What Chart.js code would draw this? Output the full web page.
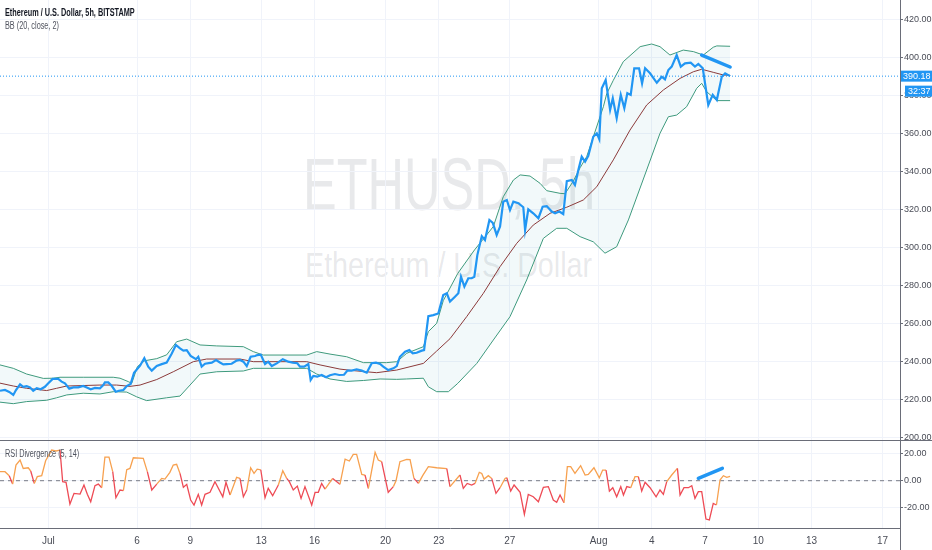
<!DOCTYPE html>
<html>
<head>
<meta charset="utf-8">
<title>ETHUSD 5h</title>
<script src="https://cdn.jsdelivr.net/npm/chart.js@4.4.1/dist/chart.umd.min.js"></script>
<style>
  html, body { margin: 0; padding: 0; background: #fff; }
  #wrap { position: relative; width: 932px; height: 550px; overflow: hidden; font-family: "Liberation Sans", Arial, sans-serif; }
  canvas { position: absolute; left: 0; }
  #mainCanvas { top: 0; }
  #rsiCanvas { top: 440px; }
  .mark { position: absolute; white-space: nowrap; line-height: 1; color: rgba(120, 123, 134, 0.17); transform-origin: 0 0; }
  .label { position: absolute; white-space: nowrap; line-height: 1; font-size: 10px; transform-origin: 0 0; transform: scaleX(0.73); }
  .rule { position: absolute; background: #6a6d78; }
</style>
</head>
<body>
<div id="wrap">
  <div class="mark" style="left:303px; top:147px; font-size:75px; transform:scaleX(0.674);">ETHUSD, 5h</div>
  <div class="mark" style="left:305px; top:247px; font-size:35px; transform:scaleX(0.82);">Ethereum / U.S. Dollar</div>
  <canvas id="mainCanvas" width="932" height="440"></canvas>
  <canvas id="rsiCanvas" width="932" height="110"></canvas>
  <div class="label" style="left:5px; top:8px; font-weight:bold; color:#131722;">Ethereum / U.S. Dollar, 5h, BITSTAMP</div>
  <div class="label" style="left:5px; top:21px; color:#50535e;">BB (20, close, 2)</div>
  <div class="label" style="left:5px; top:449px; color:#50535e;">RSI Divergence (5, 14)</div>
  <div class="rule" style="left:0; top:440px; width:932px; height:1px;"></div>
  <div class="rule" style="left:900px; top:0; width:1px; height:550px;"></div>
</div>
<script>
// x values are days counted from Jul 1 (00:00), one 5h bar = 0.208 day
const xTickDays = [0, 5, 8, 12, 15, 19, 22, 26, 31, 34, 37, 40, 43, 47];
const xTickLabels = ["Jul", "6", "9", "13", "16", "20", "23", "27", "Aug", "4", "7", "10", "13", "17"];
const priceTicks = [200, 220, 240, 260, 280, 300, 320, 340, 360, 380, 400, 420];
const rsiTicks = [-20, 0, 20];

const closeDays = [
  -2.72, -2.44, -2.20, -1.97, -1.82, -1.59, -1.41, -1.22, -1.03, -0.85, -0.65, -0.43, -0.19,
  0.00, 0.25, 0.56, 0.75, 0.94, 1.18, 1.41, 1.69, 1.97, 2.20, 2.39, 2.63, 2.91, 3.10, 3.19,
  3.38, 3.57, 3.80, 3.98, 4.23, 4.42, 4.64, 4.83, 5.17, 5.41, 5.63, 5.83, 6.11, 6.39, 6.67,
  6.95, 7.19, 7.42, 7.61, 7.80, 8.02, 8.32, 8.45, 8.64, 8.83, 9.21, 9.45, 9.67, 9.86, 10.05,
  10.33, 10.61, 10.80, 10.99, 11.18, 11.40, 11.65, 11.77, 11.97, 12.21, 12.39, 12.59, 12.87,
  13.21, 13.52, 13.77, 14.03, 14.18, 14.41, 14.65, 14.78, 14.93, 15.15, 15.40, 15.65, 15.87,
  16.15, 16.39, 16.66, 16.85, 17.09, 17.37, 17.66, 17.94, 18.22, 18.46, 18.69, 18.87, 19.15,
  19.44, 19.63, 19.81, 20.10, 20.34, 20.53, 20.75, 21.04, 21.17, 21.41, 21.69, 21.97, 22.25,
  22.45, 22.63, 22.91, 23.10, 23.25, 23.44, 23.66, 23.85, 24.00, 24.17, 24.42, 24.60, 24.85,
  25.04, 25.26, 25.45, 25.63, 25.83, 26.01, 26.20, 26.48, 26.76, 26.86, 27.04, 27.32, 27.61,
  27.85, 28.08, 28.36, 28.55, 28.79, 29.01, 29.21, 29.49, 29.67, 29.86, 30.05, 30.24, 30.42,
  30.70, 30.90, 31.04, 31.18, 31.40, 31.65, 31.80, 32.02, 32.25, 32.45, 32.62, 32.81, 33.01,
  33.28, 33.45, 33.62, 33.90, 34.28, 34.56, 34.74, 34.93, 35.12, 35.40, 35.63, 35.87, 36.19,
  36.43, 36.62, 36.87, 37.18, 37.43, 37.66, 37.94, 38.13, 38.41
];
const closeValues = [
  224.6, 225.0, 224.0, 222.4, 225.0, 228.0, 226.7, 227.0, 226.4, 224.6, 225.9, 225.4, 226.7,
  228.5, 230.8, 230.8, 229.4, 228.5, 225.7, 226.4, 226.4, 227.1, 226.2, 225.4, 226.1, 225.9, 227.6, 229.0,
  229.0, 227.2, 224.1, 224.6, 225.0, 227.1, 228.2, 234.1, 237.8, 241.8, 237.3, 235.2, 237.6, 238.6, 239.4,
  244.1, 248.7, 246.9, 245.7, 246.0, 242.9, 241.2, 242.5, 237.3, 238.8, 239.4, 240.8, 239.5, 238.5, 238.6,
  238.8, 240.5, 240.8, 239.9, 237.6, 242.5, 242.9, 243.4, 243.6, 238.7, 239.9, 237.6, 239.0,
  241.2, 239.9, 239.4, 239.1, 237.3, 237.3, 238.7, 230.3, 232.4, 232.0, 232.9, 231.7, 232.8,
  233.4, 232.9, 233.0, 235.2, 235.2, 235.9, 235.2, 234.1, 239.1, 239.4, 238.7, 237.3, 235.5,
  236.4, 237.6, 242.5, 245.2, 246.0, 244.3, 244.6, 245.7, 246.0, 263.9, 264.4, 265.3, 275.0,
  275.9, 271.5, 274.1, 275.9, 284.6, 279.4, 283.8, 283.8, 284.6, 296.0, 306.0, 303.9, 314.5,
  313.0, 306.6, 311.0, 324.1, 325.0, 319.7, 324.1, 323.3, 321.2, 309.2, 320.1, 318.0, 315.4,
  321.5, 321.8, 318.9, 318.0, 318.9, 317.6, 334.9, 335.5, 332.9, 340.8, 347.8, 345.2, 348.2,
  358.3, 360.1, 357.0, 383.8, 388.2, 372.4, 378.5, 368.0, 380.3, 373.3, 381.2, 380.3, 394.3,
  394.3, 386.4, 394.3, 391.7, 386.7, 389.9, 388.5, 393.4, 395.2, 401.3, 395.2, 396.9, 397.3,
  395.2, 396.6, 394.3, 375.0, 380.3, 377.6, 389.9, 391.7, 390.2
];

const upperDays = [
  -2.72, -1.97, -1.22, -0.28, 0.28, 0.66, 1.97, 3.66, 4.04, 4.51, 4.70, 5.02, 5.43, 6.11, 6.67,
  7.23, 7.80, 8.55, 9.49, 10.99, 11.55, 12.11, 14.56, 15.12, 15.87, 16.81, 17.75, 19.06, 19.63,
  20.19, 21.13, 21.41, 21.88, 22.25, 23.07, 24.01, 25.07, 25.63, 26.20, 26.58, 27.14, 27.70,
  28.08, 28.83, 29.11, 29.58, 29.96, 30.33, 31.27, 31.46, 31.83, 32.39, 33.34, 33.99, 34.46,
  35.02, 35.77, 36.34, 36.90, 37.46, 37.66, 38.41
];
const upperValues = [
  238.2, 236.4, 233.4, 231.1, 231.2, 231.7, 231.7, 231.7, 231.2, 229.4, 228.5, 237.3, 240.4, 241.5, 243.5,
  250.4, 251.8, 248.7, 248.2, 247.8, 245.2, 243.4, 243.4, 245.2, 243.9, 242.5, 239.4, 239.4, 239.9,
  244.3, 247.8, 255.7, 260.1, 272.0, 286.4, 298.7, 311.0, 326.7, 335.5, 338.2, 337.6, 333.8,
  329.9, 328.5, 328.3, 335.0, 342.0, 347.8, 374.1, 381.0, 388.0, 397.8, 405.7, 407.1, 405.7,
  401.3, 403.9, 403.1, 401.3, 405.4, 406.1, 405.9
];

const lowerDays = [
  -2.72, -1.97, -1.22, -0.09, 0.47, 1.04, 1.97, 2.91, 3.66, 4.42, 4.98, 5.54, 6.67, 7.42, 8.55,
  9.49, 10.99, 11.55, 14.56, 15.12, 15.87, 16.81, 17.75, 18.69, 19.63, 20.19, 21.13, 21.41,
  21.88, 22.54, 23.07, 24.14, 25.07, 26.01, 26.95, 27.89, 28.64, 29.21, 29.96, 30.70, 31.36,
  32.02, 32.68, 33.71, 34.46, 34.93, 35.40, 35.96, 36.53, 36.81, 37.09, 37.66, 38.41
];
const lowerValues = [
  218.6, 217.8, 218.9, 219.6, 220.9, 222.4, 223.3, 222.9, 224.1, 223.9, 221.4, 219.4, 220.9, 221.8, 233.4,
  234.6, 235.0, 236.4, 236.4, 233.4, 230.8, 229.5, 230.0, 230.8, 230.6, 230.8, 231.2, 226.7,
  224.1, 224.1, 228.5, 239.0, 251.3, 263.6, 282.9, 304.8, 310.1, 310.1, 305.7, 303.0, 297.0,
  300.4, 314.5, 340.8, 360.1, 368.8, 369.7, 374.1, 383.8, 386.4, 382.0, 377.3, 377.3
];

const basisDays = [
  -2.72, -1.97, -1.22, -0.09, 0.47, 1.04, 2.91, 3.85, 4.60, 5.17, 6.11, 7.04, 8.17, 8.92, 10.80,
  11.55, 14.56, 15.31, 16.43, 17.18, 18.50, 19.63, 21.13, 21.88, 22.63, 23.57, 24.51, 25.45,
  26.39, 27.32, 28.27, 29.21, 30.14, 30.90, 31.83, 32.77, 33.71, 34.65, 35.59, 36.34, 36.81,
  37.46, 38.03, 38.41
];
const basisValues = [
  228.6, 227.1, 225.9, 224.7, 225.9, 227.1, 227.6, 227.6, 226.9, 227.6, 230.5, 234.6, 239.9, 241.3, 241.3,
  239.9, 239.9, 238.2, 236.0, 235.2, 234.1, 235.5, 239.0, 245.5, 252.0, 263.6, 275.9, 289.9,
  302.2, 311.8, 318.0, 321.2, 325.0, 332.0, 346.1, 361.8, 375.0, 382.9, 389.0, 392.5, 393.8,
  392.2, 390.8, 390.6
];

const rsiDays = [
  -2.72, -2.44, -2.20, -2.01, -1.82, -1.59, -1.41, -1.13, -0.99, -0.79, -0.62, -0.37, -0.15,
  0.19, 0.43, 0.66, 0.81, 1.00, 1.22, 1.45, 1.79, 2.01, 2.20, 2.39, 2.63, 2.82, 3.01, 3.19,
  3.42, 3.63, 3.81, 4.04, 4.23, 4.42, 4.60, 4.79, 5.35, 5.58, 5.83, 6.11, 6.39, 6.57, 6.85,
  7.04, 7.23, 7.42, 7.61, 7.80, 8.02, 8.21, 8.45, 8.64, 8.83, 9.11, 9.39, 9.83, 10.01, 10.24,
  10.61, 10.80, 10.99, 11.18, 11.40, 11.59, 11.77, 11.97, 12.21, 12.39, 12.64, 12.96, 13.21,
  13.43, 13.58, 13.80, 14.03, 14.24, 14.46, 14.84, 15.03, 15.21, 15.40, 15.59, 16.02, 16.43,
  16.72, 16.96, 17.18, 17.37, 17.66, 17.84, 18.03, 18.41, 18.59, 18.78, 19.15, 19.44, 19.59,
  19.81, 20.19, 20.38, 20.60, 20.85, 21.09, 21.41, 21.88, 22.45, 22.63, 23.19, 23.38, 23.60,
  23.85, 24.04, 24.28, 24.42, 24.55, 24.79, 24.98, 25.22, 25.45, 25.73, 25.83, 26.05, 26.24,
  26.58, 26.82, 27.04, 27.32, 27.61, 27.89, 28.17, 28.45, 28.64, 28.83, 29.05, 29.24, 29.43,
  29.67, 29.99, 30.24, 30.42, 30.74, 31.04, 31.23, 31.42, 31.61, 31.80, 32.02, 32.25, 32.40,
  32.59, 32.81, 33.05, 33.24, 33.43, 33.62, 33.90, 34.24, 34.46, 34.65, 34.84, 35.12, 35.44,
  35.59, 35.81, 36.06, 36.25, 36.43, 36.62, 36.81, 37.05, 37.24, 37.46, 37.64, 37.84, 38.03,
  38.22, 38.41
];
const rsiValues = [
  6.7, 6.7, 3.7, -2.5, 11.6, 15.3, 9.1, 9.6, 7.2, -2.0, 3.0, 3.7, 14.8,
  22.7, 22.0, 22.7, -0.7, -1.2, -17.3, -9.4, -9.9, -3.2, -10.1, -15.6, -3.7, -2.5, -5.2, 17.5,
  17.5, 6.7, -12.6, -6.9, -7.4, 8.1, 9.1, 17.0, 16.5, 6.7, -6.9, -2.5, 1.7, 1.2, 6.2,
  11.6, 12.1, 5.4, -4.9, -2.7, -14.3, -18.0, -10.1, -18.0, -10.1, -8.6, -0.7, -11.9, -1.2, -10.6,
  2.5, 1.7, -11.9, -6.9, 9.6, 5.4, 8.6, 8.1, -12.6, -5.7, -11.1, -3.2, 7.4,
  1.7, -0.7, -6.9, -4.0, -13.1, -4.4, -18.0, -8.6, -8.6, -2.0, -6.2, 1.7, -2.7,
  16.0, 14.6, 19.5, 19.5, 4.7, 4.2, -5.7, 21.0, 15.3, 14.1, -8.6, -4.4, 0.0,
  14.1, 15.8, 15.6, 1.7, -2.0, 3.7, 10.4, 9.6, 8.9, -4.4, 4.2, -5.7, -2.0,
  -3.2, -2.0, 6.2, 5.4, 1.2, 3.7, 1.7, -9.4, -5.2, 1.7, 2.2, -7.7, -3.2,
  -8.6, -24.9, -10.1, -11.9, -15.6, -4.9, -4.4, -14.3, -16.0, -10.6, -16.3, 10.4, 10.4,
  5.4, 11.1, 4.2, 4.7, 9.6, 2.2, 7.9, 7.9, -7.7, -5.2, -11.9, -4.4, -10.6,
  -4.4, -5.2, 3.0, 3.0, -7.7, -1.2, -5.2, -11.9, -6.9, -10.1, -0.7, 4.2, 9.1,
  -10.6, -5.2, -5.2, -3.7, -13.1, -8.1, -8.1, -28.4, -29.1, -16.8, -18.0, 0.5, 3.7,
  2.5, 3.2
];

// hand drawn trend lines on the chart
const priceTrendDays = [36.81, 38.41];
const priceTrendValues = [401.3, 395.0];
const rsiTrendDays = [36.62, 37.97];
const rsiTrendValues = [1.8, 9.2];

const lastPrice = 390.18;
const countdown = "32:37";

const xMin = -2.72, xMax = 47.98;
const priceMin = 198.68, priceMax = 430.26;
const rsiMin = -35.04, rsiMax = 30.15;

const gridColor = "#f0f3fa";
const axisColor = "#6a6d78";
const textColor = "#4a4d57";
const tickFont = { family: '"Liberation Sans", Arial, sans-serif', size: 9 };

function pairs(days, values) {
  return days.map((d, i) => ({ x: d, y: values[i] }));
}

const lastPriceLabel = {
  id: "lastPriceLabel",
  afterDraw(chart) {
    const { ctx, scales: { y } } = chart;
    const py = y.getPixelForValue(lastPrice);
    ctx.save();
    ctx.fillStyle = "#2196f3";
    ctx.fillRect(y.left, py - 5.5, y.width, 11);
    ctx.fillRect(y.left + 5, py + 9.5, y.width - 5, 11);
    ctx.fillStyle = "#ffffff";
    ctx.font = '9px "Liberation Sans", Arial, sans-serif';
    ctx.textBaseline = "middle";
    ctx.fillText(lastPrice.toFixed(2), y.left + 3, py + 0.5);
    ctx.fillText(countdown, y.left + 8, py + 15.5);
    ctx.restore();
  }
};

const xGrid = {
  afterBuildTicks: (scale) => { scale.ticks = xTickDays.map((v) => ({ value: v })); }
};

new Chart(document.getElementById("mainCanvas"), {
  type: "line",
  data: {
    datasets: [
      { data: pairs(closeDays, closeValues), borderColor: "#2196f3", borderWidth: 2.2 },
      { data: pairs(priceTrendDays, priceTrendValues), borderColor: "#2196f3", borderWidth: 3.5, borderCapStyle: "round" },
      { data: [{ x: xMin, y: lastPrice }, { x: xMax, y: lastPrice }], borderColor: "#2196f3", borderWidth: 1, borderDash: [1, 2] },
      { data: pairs(basisDays, basisValues), borderColor: "#8b3a3a", borderWidth: 1 },
      { data: pairs(upperDays, upperValues), borderColor: "#3f9a7c", borderWidth: 1, fill: "+1", backgroundColor: "rgba(33, 150, 170, 0.06)" },
      { data: pairs(lowerDays, lowerValues), borderColor: "#3f9a7c", borderWidth: 1 }
    ]
  },
  options: {
    responsive: false,
    animation: false,
    layout: { padding: 0, autoPadding: false },
    plugins: { legend: { display: false }, tooltip: { enabled: false } },
    elements: { point: { radius: 0 }, line: { tension: 0 } },
    scales: {
      x: {
        type: "linear", min: xMin, max: xMax,
        ticks: { display: false },
        grid: { color: gridColor, drawTicks: false },
        border: { display: false },
        afterBuildTicks: xGrid.afterBuildTicks,
        afterFit: (s) => { s.height = 0; s.paddingLeft = 0; s.paddingRight = 0; }
      },
      y: {
        position: "right", min: priceMin, max: priceMax,
        afterBuildTicks: (s) => { s.ticks = priceTicks.map((v) => ({ value: v })); },
        ticks: { callback: (v) => v.toFixed(2), font: tickFont, color: textColor, padding: 1 },
        grid: { color: gridColor, tickColor: axisColor, tickLength: 3 },
        border: { display: false },
        afterFit: (s) => { s.width = 32; s.paddingTop = 0; s.paddingBottom = 0; }
      }
    }
  },
  plugins: [lastPriceLabel]
});

new Chart(document.getElementById("rsiCanvas"), {
  type: "line",
  data: {
    datasets: [
      { data: pairs(rsiTrendDays, rsiTrendValues), borderColor: "#2196f3", borderWidth: 3.5, borderCapStyle: "round" },
      {
        data: pairs(rsiDays, rsiValues), borderWidth: 1.3, borderColor: "#f7a14f",
        segment: { borderColor: (ctx) => (ctx.p1.parsed.y < 0 ? "#ee4b55" : "#f7a14f") }
      },
      { data: [{ x: xMin, y: 0 }, { x: xMax, y: 0 }], borderColor: "#787b86", borderWidth: 1, borderDash: [4, 4] }
    ]
  },
  options: {
    responsive: false,
    animation: false,
    layout: { padding: 0, autoPadding: false },
    plugins: { legend: { display: false }, tooltip: { enabled: false } },
    elements: { point: { radius: 0 }, line: { tension: 0 } },
    scales: {
      x: {
        type: "linear", min: xMin, max: xMax,
        afterBuildTicks: xGrid.afterBuildTicks,
        ticks: { callback: (v, i) => xTickLabels[i], font: { family: tickFont.family, size: 10 }, color: textColor, padding: 7, maxRotation: 0, autoSkip: false },
        grid: { color: gridColor, drawTicks: false },
        border: { display: true, color: axisColor },
        afterFit: (s) => { s.height = 22; s.paddingLeft = 0; s.paddingRight = 0; }
      },
      y: {
        position: "right", min: rsiMin, max: rsiMax,
        afterBuildTicks: (s) => { s.ticks = rsiTicks.map((v) => ({ value: v })); },
        ticks: { callback: (v) => v.toFixed(2), font: tickFont, color: textColor, padding: 1 },
        grid: { color: gridColor, tickColor: axisColor, tickLength: 3 },
        border: { display: false },
        afterFit: (s) => { s.width = 32; s.paddingTop = 0; s.paddingBottom = 0; }
      }
    }
  }
});
</script>
</body>
</html>
